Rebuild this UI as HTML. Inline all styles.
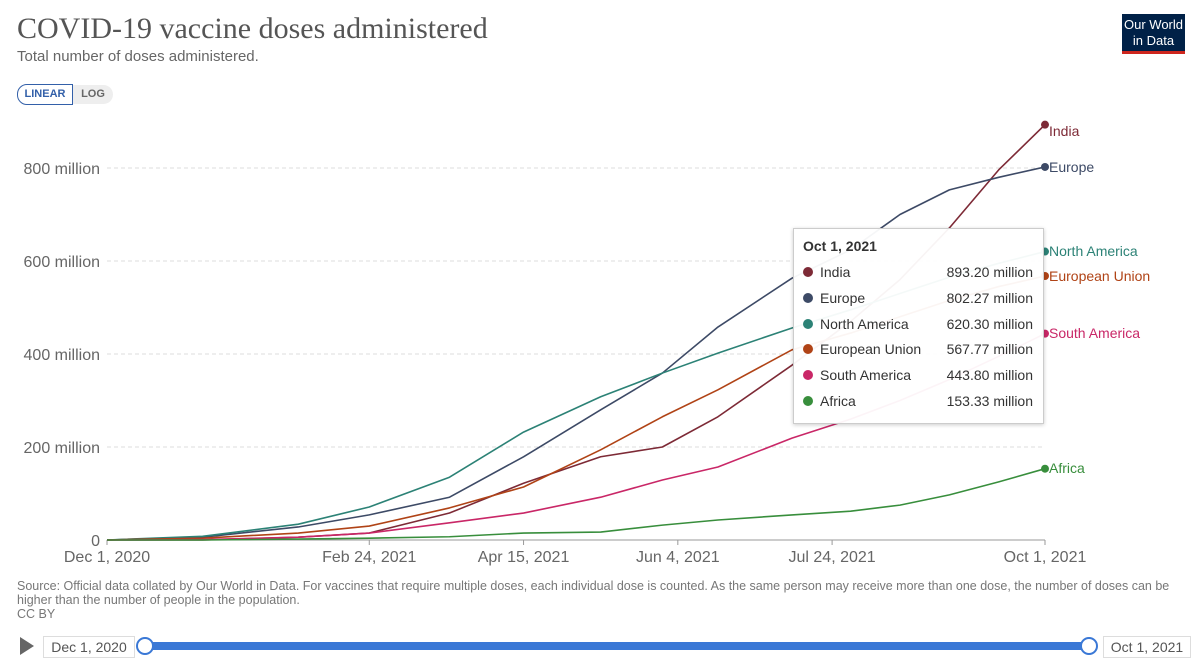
<!DOCTYPE html>
<html><head><meta charset="utf-8"><style>
body{margin:0;width:1200px;height:663px;background:#fff;font-family:"Liberation Sans",sans-serif;overflow:hidden;position:relative}
.abs{position:absolute}
</style></head><body>
<div class="abs" style="left:17px;top:12px;font-family:'Liberation Serif',serif;font-size:30px;color:#555">COVID-19 vaccine doses administered</div>
<div class="abs" style="left:17px;top:48px;font-size:15px;color:#666">Total number of doses administered.</div>
<div class="abs" style="left:17px;top:84px;width:54px;height:19px;border:1px solid #3360a9;border-radius:10px 0 0 10px;color:#3360a9;font-size:11px;font-weight:bold;text-align:center;line-height:19px">LINEAR</div>
<div class="abs" style="left:73px;top:85px;width:40px;height:19px;background:#eee;border-radius:0 10px 10px 0;color:#666;font-size:11px;font-weight:bold;text-align:center;line-height:19px">LOG</div>
<div class="abs" style="left:1122px;top:14px;width:63px;height:40px;background:#002147;color:#fff;font-size:13px;text-align:center;line-height:16px;padding-top:3px;box-sizing:border-box;border-bottom:3px solid #ce261e">Our World<br>in Data</div>
<svg class="abs" style="left:0;top:0" width="1200" height="663" id="chart"></svg>
<div class="abs" style="left:17px;top:579px;width:1170px;font-size:12.5px;color:#777;line-height:14px">Source: Official data collated by Our World in Data. For vaccines that require multiple doses, each individual dose is counted. As the same person may receive more than one dose, the number of doses can be higher than the number of people in the population.<br>CC BY</div>
<div class="abs" style="left:20px;top:637px;width:0;height:0;border-left:14px solid #666;border-top:9px solid transparent;border-bottom:9px solid transparent"></div>
<div class="abs" style="left:43px;top:636px;width:90px;height:20px;border:1px solid #ddd;font-size:14px;color:#555;line-height:20px;text-align:center">Dec 1, 2020</div>
<div class="abs" style="left:145px;top:642px;width:943px;height:8px;background:#3a78d6;border-radius:4px"></div>
<div class="abs" style="left:136px;top:637px;width:14px;height:14px;border:2px solid #3a78d6;background:#fff;border-radius:50%"></div>
<div class="abs" style="left:1080px;top:637px;width:14px;height:14px;border:2px solid #3a78d6;background:#fff;border-radius:50%"></div>
<div class="abs" style="left:1103px;top:636px;width:86px;height:20px;border:1px solid #ddd;font-size:14px;color:#555;line-height:20px;text-align:center">Oct 1, 2021</div>
<div class="abs" style="left:793px;top:228px;width:249px;height:194px;background:rgba(255,255,255,0.95);border:1px solid #ccc;box-shadow:0 1px 4px rgba(0,0,0,.2);font-size:14px;color:#333">
<div style="position:absolute;left:9px;top:9px;font-weight:bold">Oct 1, 2021</div>
<div id="tt"></div></div>
<script>
const seriesNames=["India","Europe","North America","European Union","South America","Africa"];
const colors=["#7d2a36","#3d4a66","#2c8276","#b04316","#c92767","#388e3c"];
const days=[0,31,62,85,111,135,160,180,198,222,241,257,273,289,304];
const india=[0,0,6,15,58,122,179,200,265,376,470,560,671,796,893.2];
const europe=[0,6,28,54,92,179,280,359,458,563,624,700,753,780,802.27];
const northAmerica=[0,8,34,71,135,232,308,359,402,456,495,530,565,595,620.3];
const eu=[0,4,15,30,69,114,194,265,323,409,445,480,515,545,567.77];
const southAmerica=[0,1,6,15,37,58,92,129,157,219,260,300,345,395,443.8];
const africa=[0,0,2,4,7,15,17,32,43,54,62,75,97,125,153.33];
const seriesVals=[india,europe,northAmerica,eu,southAmerica,africa];
const yTicks=[0,200,400,600,800];
const yTickLabels=["0","200 million","400 million","600 million","800 million"];
const xTickDays=[0,85,135,185,235,304];
const xTickLabels=["Dec 1, 2020","Feb 24, 2021","Apr 15, 2021","Jun 4, 2021","Jul 24, 2021","Oct 1, 2021"];
const endLabels=["893.20 million","802.27 million","620.30 million","567.77 million","443.80 million","153.33 million"];
const X=d=>107+d*(1045-107)/304, Y=v=>540-v*93/200;
const svg=document.getElementById('chart'),NS="http://www.w3.org/2000/svg";
function mk(t,a,p){const e=document.createElementNS(NS,t);for(const k in a)e.setAttribute(k,a[k]);(p||svg).appendChild(e);return e;}
yTicks.forEach((v,i)=>{
 const l=mk('line',{x1:107,x2:1045,y1:Y(v),y2:Y(v),stroke:v?'#ddd':'#999','stroke-dasharray':v?'4,3':''});
 
 const t=mk('text',{x:100,y:Y(v)+6,'text-anchor':'end','font-size':16,fill:'#666'});t.textContent=yTickLabels[i];
 
});
xTickDays.forEach((d,i)=>{
 const l=mk('line',{x1:X(d),x2:X(d),y1:540,y2:545,stroke:'#999'});
 
 const t=mk('text',{x:X(d),y:562,'text-anchor':'middle','font-size':16,fill:'#666'});t.textContent=xTickLabels[i];
 
});
const labelY=[131,167,251,276,333,468];
seriesVals.forEach((vals,s)=>{
 const p=mk('polyline',{points:vals.map((v,i)=>X(days[i])+','+Y(v)).join(' '),fill:'none',stroke:colors[s],'stroke-width':1.6,'stroke-linejoin':'round'});
 
 const last=vals[vals.length-1];
 const c=mk('circle',{cx:X(304),cy:Y(last),r:4,fill:colors[s]});
 
 const t=mk('text',{x:1049,y:labelY[s]+5,'font-size':14,fill:colors[s]});t.textContent=seriesNames[s];
 
});
const tt=document.getElementById('tt');
seriesNames.forEach((n,s)=>{
 const r=document.createElement('div');
 
 
 r.style.cssText='position:absolute;left:9px;top:'+(35+s*25.8)+'px;width:230px';
 r.innerHTML='<span style="display:inline-block;width:10px;height:10px;border-radius:50%;background:'+colors[s]+';margin-right:7px"></span>'+n+'<span style="position:absolute;right:0">'+endLabels[s]+'</span>';
 tt.appendChild(r);
});
</script>
</body></html>
